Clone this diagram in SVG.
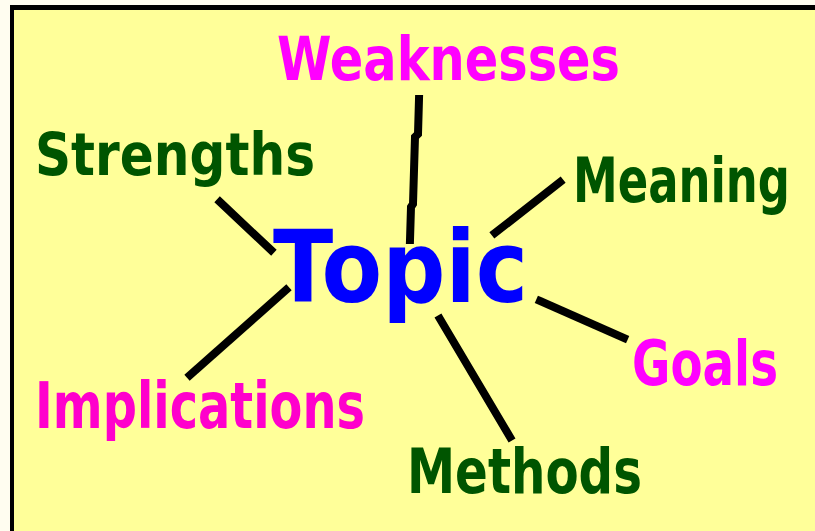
<svg xmlns="http://www.w3.org/2000/svg" width="815" height="531" viewBox="0 0 815 531">
<style>
.lbl{font-family:"DejaVu Sans","Liberation Sans",sans-serif;font-weight:bold;}
.m{fill:#FF00FF;}
.p{fill:#FF00CC;}
.g{fill:#005500;}
.t{fill:#0000FF;}
.conn{fill:none;stroke:#000000;stroke-width:8;stroke-linecap:square;stroke-linejoin:miter;}
</style>
<rect x="0" y="0" width="815" height="531" fill="#FFFDF0"/>
<rect x="10" y="5" width="805" height="526" fill="#000000"/>
<rect x="14" y="10" width="801" height="521" fill="#FFFF99"/>
<g id="connectors">
<polyline class="conn" points="419,99 418,134 415,137 413,204 411,207 410,240"/>
<line class="conn" x1="220" y1="202" x2="271" y2="250"/>
<line class="conn" x1="560" y1="182" x2="495" y2="233"/>
<line class="conn" x1="286" y1="290" x2="190" y2="375"/>
<line class="conn" x1="540" y1="301" x2="624" y2="338"/>
<line class="conn" x1="440" y1="319" x2="510" y2="437"/>
</g>
<g id="node-topic"><text class="lbl t" transform="translate(273,302) scale(1,1.22)" font-size="82" textLength="255" lengthAdjust="spacingAndGlyphs">Topic</text></g>
<g id="node-weaknesses"><text class="lbl m" transform="translate(277,80) scale(1,1.26)" font-size="48.5" textLength="343" lengthAdjust="spacingAndGlyphs">Weaknesses</text></g>
<g id="node-strengths"><text class="lbl g" transform="translate(35,175) scale(1,1.2)" font-size="49" textLength="280" lengthAdjust="spacingAndGlyphs">Strengths</text></g>
<g id="node-meaning"><text class="lbl g" transform="translate(573,202) scale(1,1.4)" font-size="44" textLength="217" lengthAdjust="spacingAndGlyphs">Meaning</text></g>
<g id="node-goals"><text class="lbl m" transform="translate(632,385) scale(1,1.34)" font-size="46" textLength="146" lengthAdjust="spacingAndGlyphs">Goals</text></g>
<g id="node-implications"><text class="lbl p" transform="translate(35,428) scale(1,1.37)" font-size="47" textLength="330" lengthAdjust="spacingAndGlyphs">Implications</text></g>
<g id="node-methods"><text class="lbl g" transform="translate(407,493) scale(1,1.3)" font-size="47.5" textLength="235" lengthAdjust="spacingAndGlyphs">Methods</text></g>
</svg>
